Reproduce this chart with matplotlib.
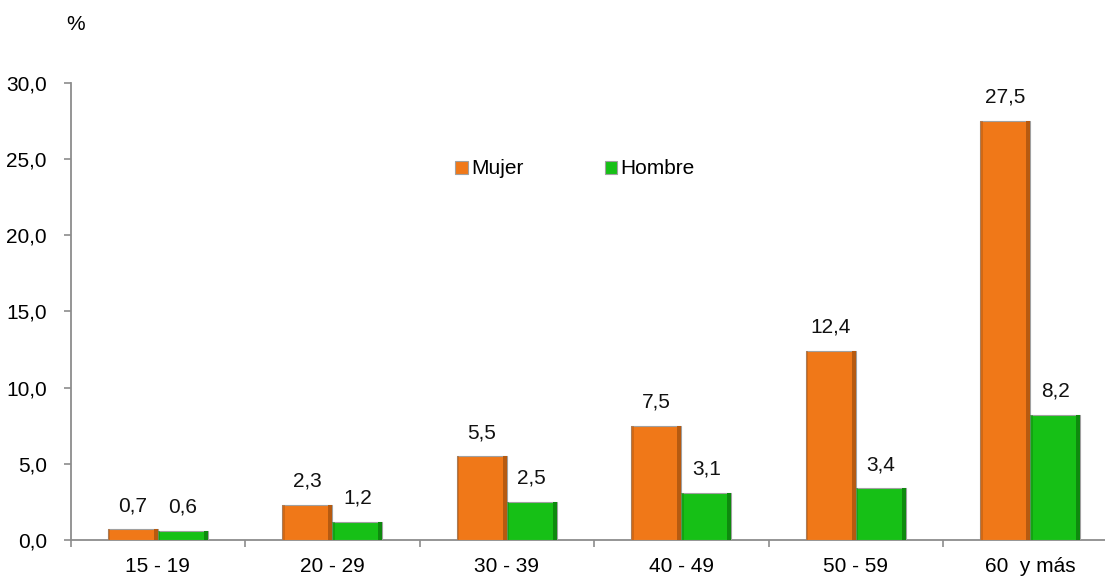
import matplotlib
matplotlib.use("Agg")
import matplotlib.pyplot as plt
import numpy as np

categories = ["15 - 19", "20 - 29", "30 - 39", "40 - 49", "50 - 59", "60  y más"]
mujer = [0.7, 2.3, 5.5, 7.5, 12.4, 27.5]
hombre = [0.6, 1.2, 2.5, 3.1, 3.4, 8.2]
series_names = ["Mujer", "Hombre"]
yticks = [0, 5, 10, 15, 20, 25, 30]

FONT = ["Liberation Sans Narrow", "Liberation Sans", "DejaVu Sans"]
plt.rcParams["font.family"] = FONT
FS = 15

W, H = 1105, 578
fig = plt.figure(figsize=(W / 100, H / 100), dpi=100)
left_px, right_px, top_px, bot_px = 70.5, 70.5 + 6 * 174.5, 82.7, 540
ax = fig.add_axes([left_px / W, (H - bot_px) / H, (right_px - left_px) / W, (bot_px - top_px) / H])

x = np.arange(len(categories))
bw = 0.287
orange = "#F07818"
green = "#16C016"
b1 = ax.bar(x - bw / 2, mujer, bw, color=orange, edgecolor="#A0A0A0", linewidth=0.8, label=series_names[0], zorder=3)
b2 = ax.bar(x + bw / 2, hombre, bw, color=green, edgecolor="#A0A0A0", linewidth=0.8, label=series_names[1], zorder=3)

# subtle bevel shading: darker strips on sides
for bars, dark in ((b1, "#B65A10"), (b2, "#0E8A0E")):
    for r in bars:
        bx, by, bwid, bh = r.get_x(), r.get_y(), r.get_width(), r.get_height()
        ax.bar(bx + bwid * 0.92, bh, bwid * 0.08, bottom=by, align="edge", color=dark, linewidth=0, zorder=4)
        ax.bar(bx, bh, bwid * 0.05, bottom=by, align="edge", color=dark, linewidth=0, zorder=4, alpha=0.5)

def fmt(v):
    return f"{v:.1f}".replace(".", ",")

for bars, vals in ((b1, mujer), (b2, hombre)):
    for r, v in zip(bars, vals):
        ax.annotate(fmt(v), (r.get_x() + r.get_width() / 2, v), xytext=(0, 13),
                    textcoords="offset points", ha="center", va="baseline", fontsize=FS, color="#111111")

ax.set_xlim(-0.5, len(categories) - 0.5)
ax.set_ylim(0, 30)
ax.set_yticks(yticks)
ax.set_yticklabels([fmt(v) for v in yticks])
ax.set_xticks(x)
ax.set_xticklabels(categories)
ax.set_xticks(np.arange(len(categories) + 1) - 0.5, minor=True)
ax.tick_params(axis="x", which="major", length=0, pad=12, labelsize=FS)
ax.tick_params(axis="x", which="minor", length=5, width=1.2, color="#8C8C8C")
ax.tick_params(axis="y", length=5, width=1.2, color="#8C8C8C", pad=12, labelsize=FS)

for s in ("top", "right"):
    ax.spines[s].set_visible(False)
for s in ("left", "bottom"):
    ax.spines[s].set_color("#8C8C8C")
    ax.spines[s].set_linewidth(1.3)

fig.text(76 / W, 1 - 25 / H, "%", ha="center", va="center", fontsize=FS)

leg = fig.legend(handles=[b1, b2], labels=series_names, loc="center", bbox_to_anchor=(575 / W, 1 - 169 / H),
                 ncol=2, frameon=False, fontsize=FS, handlelength=0.6, handleheight=0.6,
                 handletextpad=0.15, columnspacing=3.9)

fig.savefig("out.png", dpi=100)
